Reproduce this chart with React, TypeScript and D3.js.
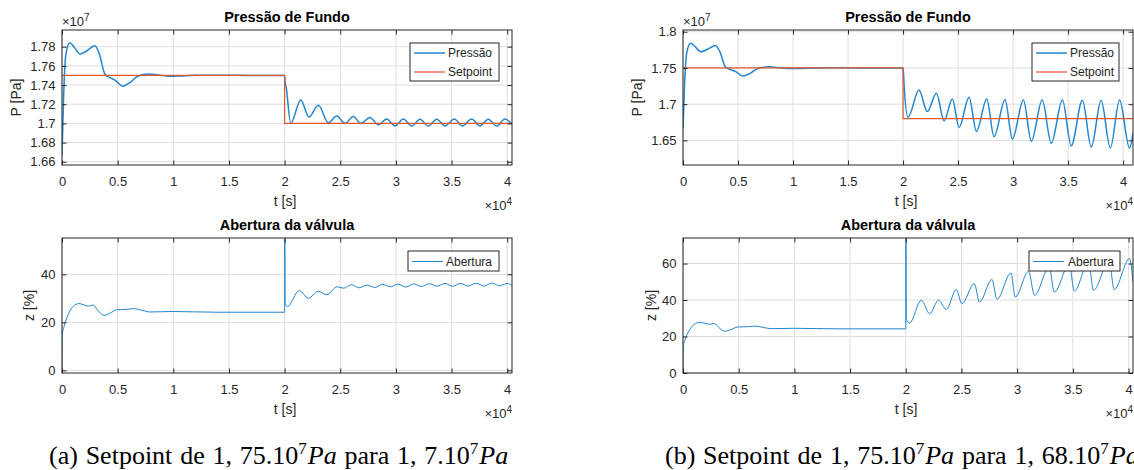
import { useEffect, useRef } from 'react';
import * as d3 from 'd3';

// first 2e4 s are identical in both runs (same setpoint 1.75e7)
const preTime = [0, 150, 350, 700, 1100, 1620, 2200, 2960, 3350, 3850, 4300, 4750, 5450, 6100, 6800, 7800, 8800, 9550, 10500, 12000, 14000, 17000, 20000];
const prePressure = [1.667, 1.73, 1.772, 1.7842, 1.7795, 1.7724, 1.7755, 1.781, 1.7725, 1.7515, 1.7478, 1.7452, 1.7388, 1.7425, 1.7492, 1.7515, 1.7503, 1.7492, 1.7494, 1.7501, 1.7502, 1.75, 1.75];
const preOpenTime = [0, 20, 200, 450, 1000, 1530, 2000, 2370, 2820, 3200, 3770, 4300, 4910, 5800, 6410, 7200, 7900, 10000, 14000, 20000];
const preOpening = [0, 14.5, 18.5, 22.1, 26.6, 27.8, 27.2, 26.7, 27.2, 25.0, 22.9, 23.8, 25.2, 25.4, 25.7, 25.0, 24.3, 24.5, 24.2, 24.2];

// (a) setpoint 1.75 -> 1.70
const postTimeA = [20030, 20150, 20550, 21450, 22190, 23030, 23930, 24680, 25430, 26170, 26840, 27670, 28420, 29170, 29920, 30670, 31420, 32170, 32910, 33670, 34410, 35250, 35970, 36800, 37560, 38300, 39060, 39800, 40430];
const postPressureA = [1.745, 1.737, 1.7, 1.7245, 1.7066, 1.719, 1.7007, 1.7076, 1.7, 1.7073, 1.7, 1.7062, 1.6985, 1.7045, 1.6975, 1.7045, 1.6972, 1.7044, 1.6972, 1.7044, 1.6973, 1.7045, 1.6972, 1.7045, 1.6973, 1.7044, 1.6972, 1.7045, 1.699];
const postOpenTimeA = [20010, 20040, 20240, 21320, 22130, 23030, 23780, 24730, 25300, 26000, 26700, 27400, 28100, 28800, 29500, 30200, 30900, 31600, 32300, 33000, 33700, 34400, 35100, 35800, 36500, 37200, 37900, 38600, 39300, 40000, 40430];
const postOpeningA = [100, 28, 26.5, 33.2, 30, 32.9, 31.5, 34.8, 34.2, 35.6, 34.4, 35.5, 34.5, 35.8, 34.8, 35.9, 34.7, 36.0, 34.9, 36.1, 35.0, 36.2, 35.0, 36.2, 35.1, 36.3, 35.1, 36.3, 35.2, 36.2, 35.3];

// (b) setpoint 1.75 -> 1.68
const postTimeB = [20030, 20100, 20450, 21450, 22200, 23030, 23730, 24480, 25090, 26000, 26670, 27610, 28270, 29270, 29940, 30940, 31660, 32650, 33470, 34480, 35290, 36300, 37110, 38000, 38840, 39680, 40590, 40900];
const postPressureB = [1.745, 1.725, 1.6818, 1.7196, 1.6897, 1.715, 1.6772, 1.7072, 1.668, 1.7094, 1.6624, 1.7072, 1.655, 1.7062, 1.652, 1.7058, 1.6486, 1.7058, 1.646, 1.7058, 1.6427, 1.7055, 1.641, 1.7055, 1.6395, 1.7058, 1.639, 1.66];
const postOpenTimeB = [20010, 20040, 20340, 21390, 22140, 22950, 23640, 24530, 25040, 26150, 26620, 27740, 28190, 29440, 29830, 31020, 31560, 32880, 33330, 34680, 35130, 36410, 36860, 38260, 38710, 40090, 40400];
const postOpeningB = [100, 29.5, 27.4, 39.9, 32.6, 39.9, 34.8, 45.7, 38, 49, 38.9, 51.3, 40.4, 54.8, 41.6, 55.7, 42.6, 58, 44.4, 59.5, 45, 60.5, 45.4, 61.5, 45.7, 62.7, 50];

const setpointTime = [0, 20000, 20000, 41000];
const setpointA = [1.75, 1.75, 1.7, 1.7];
const setpointB = [1.75, 1.75, 1.68, 1.68];

const timeTicks = [0, 5000, 10000, 15000, 20000, 25000, 30000, 35000, 40000];
const pressureTicksA = [1.66, 1.68, 1.7, 1.72, 1.74, 1.76, 1.78];
const pressureTicksB = [1.65, 1.7, 1.75, 1.8];
const openingTicksA = [0, 20, 40];
const openingTicksB = [0, 20, 40, 60];

const BLUE = '#2286cf';
const ORANGE = '#e0582a';
const AX = '#262626';
const SANS = "'Liberation Sans', Arial, Helvetica, sans-serif";

type Series = { name: string; t: number[]; v: number[]; color: string; width: number };
type Panel = {
  left: number; right: number; top: number; bottom: number;
  xDomain: [number, number]; yDomain: [number, number]; yTicks: number[];
  title: string; yLabel: string; yLabelX: number; yExp?: string;
  series: Series[];
  legend: { x: number; y: number; w: number; h: number; lineX: number; textX: number };
};

const panels: Panel[] = [
  {
    left: 62, right: 512, top: 30, bottom: 165, xDomain: [0, 40430], yDomain: [1.6566, 1.7974], yTicks: pressureTicksA,
    title: 'Pressão de Fundo', yLabel: 'P [Pa]', yLabelX: 16, yExp: '7',
    series: [
      { name: 'Pressão', t: preTime.concat(postTimeA), v: prePressure.concat(postPressureA), color: BLUE, width: 1.5 },
      { name: 'Setpoint', t: setpointTime, v: setpointA, color: ORANGE, width: 1.2 },
    ],
    legend: { x: 410, y: 43, w: 89, h: 38, lineX: 414, textX: 448 },
  },
  {
    left: 62, right: 512, top: 238, bottom: 373, xDomain: [0, 40430], yDomain: [-1.1, 55.1], yTicks: openingTicksA,
    title: 'Abertura da válvula', yLabel: 'z [%]', yLabelX: 29,
    series: [
      { name: 'Abertura', t: preOpenTime.concat(postOpenTimeA), v: preOpening.concat(postOpeningA), color: BLUE, width: 1 },
    ],
    legend: { x: 408, y: 251, w: 91, h: 20, lineX: 412, textX: 446 },
  },
  {
    left: 683, right: 1133, top: 30, bottom: 165, xDomain: [0, 40900], yDomain: [1.616, 1.8024], yTicks: pressureTicksB,
    title: 'Pressão de Fundo', yLabel: 'P [Pa]', yLabelX: 637, yExp: '7',
    series: [
      { name: 'Pressão', t: preTime.concat(postTimeB), v: prePressure.concat(postPressureB), color: BLUE, width: 1.5 },
      { name: 'Setpoint', t: setpointTime, v: setpointB, color: ORANGE, width: 1.2 },
    ],
    legend: { x: 1032, y: 43, w: 87, h: 38, lineX: 1036, textX: 1070 },
  },
  {
    left: 683, right: 1133, top: 238, bottom: 373, xDomain: [0, 40400], yDomain: [0, 74], yTicks: openingTicksB,
    title: 'Abertura da válvula', yLabel: 'z [%]', yLabelX: 651,
    series: [
      { name: 'Abertura', t: preOpenTime.concat(postOpenTimeB), v: preOpening.concat(postOpeningB), color: BLUE, width: 1 },
    ],
    legend: { x: 1029, y: 251, w: 91, h: 20, lineX: 1033, textX: 1068 },
  },
];

function drawPanel(root: d3.Selection<SVGGElement, unknown, null, undefined>, p: Panel, idx: number) {
  const x = d3.scaleLinear().domain(p.xDomain).range([p.left, p.right]);
  const y = d3.scaleLinear().domain(p.yDomain).range([p.bottom, p.top]);
  const w = p.right - p.left;
  const h = p.bottom - p.top;
  const g = root.append('g').attr('font-family', SANS);

  g.append('rect').attr('x', p.left).attr('y', p.top).attr('width', w).attr('height', h).attr('fill', '#fff');

  // grid
  g.append('g').selectAll('line').data(timeTicks.filter(d => d <= p.xDomain[1])).join('line')
    .attr('x1', d => x(d)).attr('x2', d => x(d)).attr('y1', p.top).attr('y2', p.bottom)
    .attr('stroke', '#dedede').attr('stroke-width', 1);
  g.append('g').selectAll('line').data(p.yTicks).join('line')
    .attr('x1', p.left).attr('x2', p.right).attr('y1', d => y(d)).attr('y2', d => y(d))
    .attr('stroke', '#dedede').attr('stroke-width', 1);

  // lines
  const clipId = 'clip-' + idx;
  g.append('clipPath').attr('id', clipId).append('rect')
    .attr('x', p.left).attr('y', p.top).attr('width', w).attr('height', h);
  const line = d3.line<[number, number]>().x(d => x(d[0])).y(d => y(d[1])).curve(d3.curveMonotoneX);
  p.series.forEach(s => {
    const pts = d3.zip(s.t, s.v) as [number, number][];
    g.append('path').datum(pts).attr('clip-path', `url(#${clipId})`)
      .attr('d', s.name === 'Setpoint' ? d3.line<[number, number]>().x(d => x(d[0])).y(d => y(d[1]))(pts) : line(pts))
      .attr('fill', 'none').attr('stroke', s.color).attr('stroke-width', s.width).attr('stroke-linejoin', 'round');
  });

  // axes (ticks inside, box on)
  const fmtT = (d: d3.NumberValue) => String(+d / 1e4);
  const fmtY = (d: d3.NumberValue) => String(+d);
  const xb = g.append('g').attr('transform', `translate(0,${p.bottom})`)
    .call(d3.axisBottom(x).tickValues(timeTicks).tickFormat(fmtT).tickSize(-4.5).tickPadding(11.5));
  const xt = g.append('g').attr('transform', `translate(0,${p.top})`)
    .call(d3.axisTop(x).tickValues(timeTicks).tickFormat(() => '').tickSize(-4.5));
  const yl = g.append('g').attr('transform', `translate(${p.left},0)`)
    .call(d3.axisLeft(y).tickValues(p.yTicks).tickFormat(fmtY).tickSize(-4.5).tickPadding(6.5));
  const yr = g.append('g').attr('transform', `translate(${p.right},0)`)
    .call(d3.axisRight(y).tickValues(p.yTicks).tickFormat(() => '').tickSize(-4.5));
  [xb, xt, yl, yr].forEach(a => {
    a.select('.domain').remove();
    a.selectAll('line').attr('stroke', AX);
    a.selectAll('text').attr('fill', AX).attr('font-size', 13).attr('font-family', SANS);
  });
  g.append('rect').attr('x', p.left).attr('y', p.top).attr('width', w).attr('height', h)
    .attr('fill', 'none').attr('stroke', AX).attr('stroke-width', 1);

  // labels
  g.append('text').attr('x', (p.left + p.right) / 2).attr('y', p.top - 8).attr('text-anchor', 'middle')
    .attr('font-weight', 'bold').attr('font-size', 14.5).attr('fill', '#000').text(p.title);
  g.append('text').attr('transform', `translate(${p.yLabelX},${(p.top + p.bottom) / 2}) rotate(-90)`)
    .attr('text-anchor', 'middle').attr('dy', '0.35em').attr('font-size', 14).attr('fill', AX).text(p.yLabel);
  g.append('text').attr('x', (p.left + p.right) / 2 - 2).attr('y', p.bottom + 41).attr('text-anchor', 'middle')
    .attr('font-size', 14).attr('fill', AX).text('t [s]');
  const xe = g.append('text').attr('x', p.right).attr('y', p.bottom + 45).attr('text-anchor', 'end')
    .attr('font-size', 13).attr('fill', AX);
  xe.append('tspan').text('×10');
  xe.append('tspan').attr('dy', -5).attr('font-size', 10).text('4');
  if (p.yExp) {
    const ye = g.append('text').attr('x', p.left).attr('y', p.top - 4).attr('font-size', 13).attr('fill', AX);
    ye.append('tspan').text('×10');
    ye.append('tspan').attr('dy', -5).attr('font-size', 10).text(p.yExp);
  }

  // legend
  const L = p.legend;
  const lg = g.append('g');
  lg.append('rect').attr('x', L.x).attr('y', L.y).attr('width', L.w).attr('height', L.h)
    .attr('fill', '#fff').attr('stroke', AX).attr('stroke-width', 1);
  const rowH = L.h / p.series.length;
  p.series.forEach((s, i) => {
    const cy = L.y + rowH * (i + 0.5) + 0.5;
    lg.append('line').attr('x1', L.lineX).attr('x2', L.lineX + 31).attr('y1', cy).attr('y2', cy)
      .attr('stroke', s.color).attr('stroke-width', s.width);
    lg.append('text').attr('x', L.textX).attr('y', cy).attr('dy', '0.35em').attr('font-size', 12)
      .attr('fill', AX).text(s.name);
  });
}

const App = () => {
  const gRef = useRef<SVGGElement>(null);

  useEffect(() => {
    if (!gRef.current) return;
    const root = d3.select(gRef.current);
    root.selectAll('*').remove();
    panels.forEach((p, i) => drawPanel(root, p, i));
  }, []);

  const serif = "'Liberation Serif', 'Times New Roman', serif";
  return (
    <svg width={1134} height={470} style={{ position: 'absolute', left: 0, top: 0, background: '#fff' }}>
      <rect width={1134} height={470} fill="#fff" />
      <g ref={gRef}></g>
      <text x={49} y={464} fontFamily={serif} fontSize={26} wordSpacing={1.3} fill="#000">
        (a) Setpoint de 1, 75.10<tspan dy={-10} fontSize={17}>7</tspan><tspan dy={10} dx={1} fontStyle="italic">Pa</tspan> para 1, 7.10<tspan dy={-10} fontSize={17}>7</tspan><tspan dy={10} dx={1} fontStyle="italic">Pa</tspan>
      </text>
      <text x={665} y={464} fontFamily={serif} fontSize={26} wordSpacing={1.3} fill="#000">
        (b) Setpoint de 1, 75.10<tspan dy={-10} fontSize={17}>7</tspan><tspan dy={10} dx={1} fontStyle="italic">Pa</tspan> para 1, 68.10<tspan dy={-10} fontSize={17}>7</tspan><tspan dy={10} dx={1} fontStyle="italic">Pa</tspan>
      </text>
    </svg>
  );
};

export default App;
